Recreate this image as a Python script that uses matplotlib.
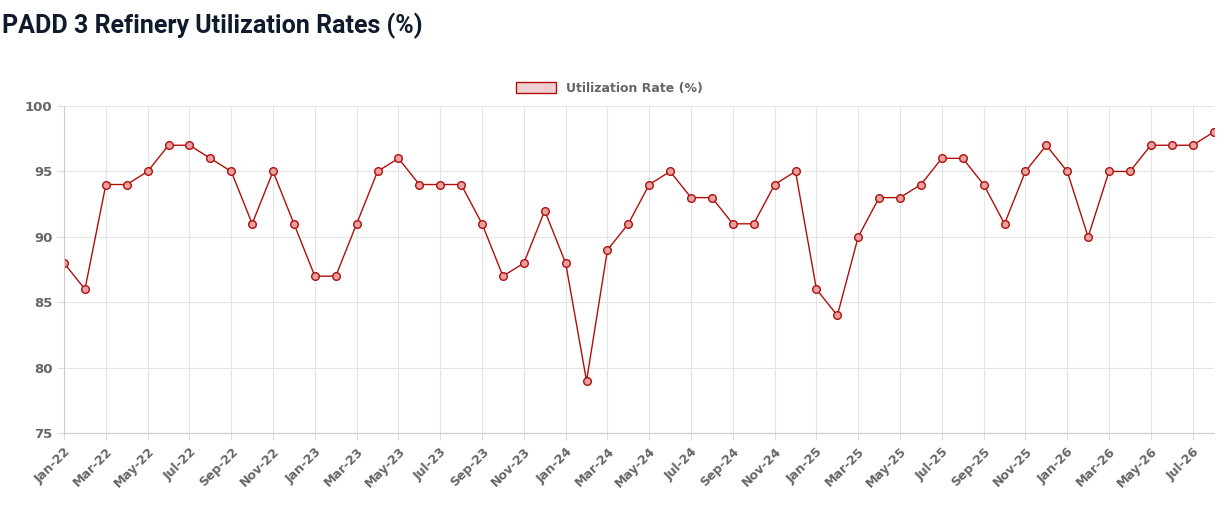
import matplotlib
matplotlib.use("Agg")
import matplotlib.pyplot as plt
from matplotlib.patches import Patch

# ── data ───────────────────────────────────────
MONTHS = ["Jan", "Feb", "Mar", "Apr", "May", "Jun",
          "Jul", "Aug", "Sep", "Oct", "Nov", "Dec"]
LABELS = [f"{m}-{y}" for y in ["22", "23", "24", "25"] for m in MONTHS] + \
         [f"{m}-26" for m in MONTHS[:8]]
UTIL = [88, 86, 94, 94, 95, 97, 97, 96, 95, 91, 95, 91,
        87, 87, 91, 95, 96, 94, 94, 94, 91, 87, 88, 92,
        88, 79, 89, 91, 94, 95, 93, 93, 91, 91, 94, 95,
        86, 84, 90, 93, 93, 94, 96, 96, 94, 91, 95, 97,
        95, 90, 95, 95, 97, 97, 97, 98]

RED = "#b00f0a"
x = list(range(len(UTIL)))

fig = plt.figure(figsize=(12.32, 5.17), dpi=100)
ax = fig.add_axes([0.052, 0.162, 0.933, 0.633])

ax.plot(x, UTIL, color=RED, linewidth=1.0, marker="o", markersize=5.5,
        markerfacecolor="#e8a0a0", markeredgecolor=RED, markeredgewidth=1.0)

ax.set_xlim(0, len(UTIL) - 1)
ax.set_ylim(75, 100)
ax.set_yticks(range(75, 101, 5))
ax.set_xticks(x[::2])
ax.set_xticklabels(LABELS[::2], rotation=45, ha="right", rotation_mode="anchor",
                   fontsize=9, fontweight="bold", color="#666666")
ax.tick_params(axis="y", labelsize=9.5, labelcolor="#666666", length=5, color="#dddddd")
for lbl in ax.get_yticklabels():
    lbl.set_fontweight("bold")
ax.tick_params(axis="x", length=5, color="#dddddd")
ax.grid(True, color="#e5e5e5", linewidth=0.8)
for s in ["top", "right"]:
    ax.spines[s].set_visible(False)
for s in ["left", "bottom"]:
    ax.spines[s].set_color("#cccccc")

fig.text(0.002, 0.95, "PADD 3 Refinery Utilization Rates (%)", fontsize=18,
         fontweight="bold", family="Roboto", color="#0f1b2d", va="center")

handle = Patch(facecolor="#f0d0d0", edgecolor=RED, linewidth=1.0)
fig.legend([handle], ["Utilization Rate (%)"], loc="center", bbox_to_anchor=(0.495, 0.829),
           frameon=False, prop={"size": 9, "weight": "bold"}, labelcolor="#666666",
           handlelength=3.2, handleheight=1.0)

fig.savefig("out.png", dpi=100)
